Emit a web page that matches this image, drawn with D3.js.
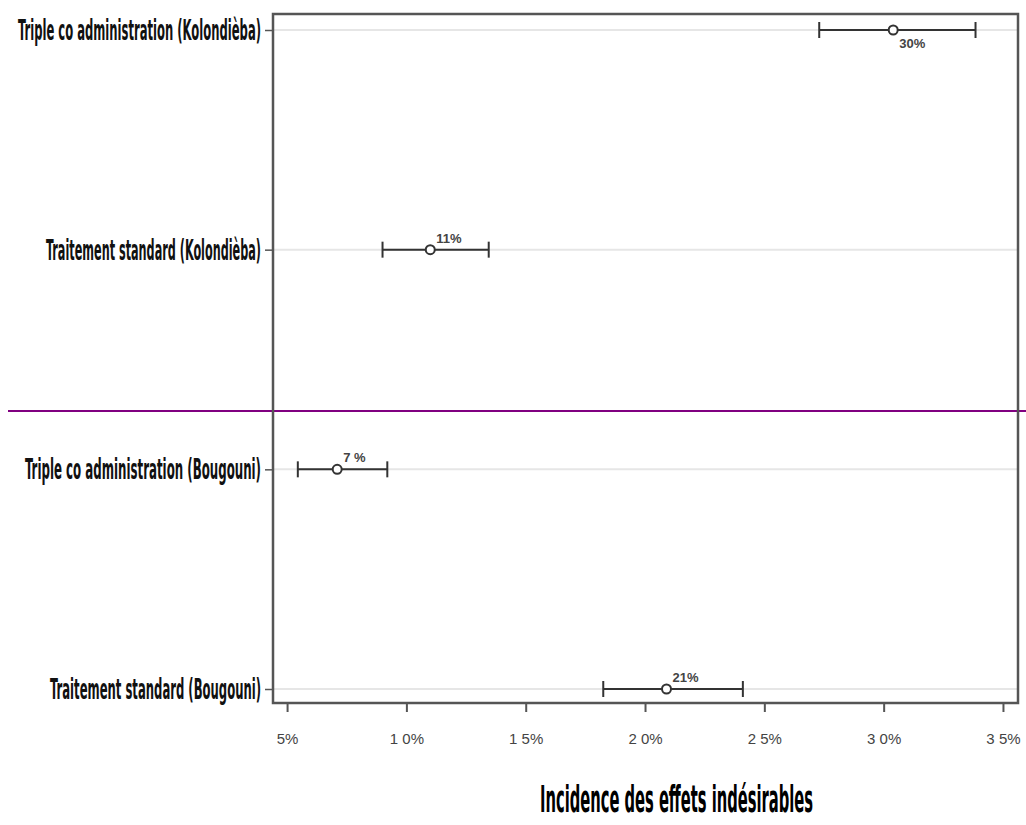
<!DOCTYPE html>
<html><head><meta charset="utf-8">
<script src="https://cdn.jsdelivr.net/npm/d3@7"></script>
<style>body{margin:0;background:#fff;} svg{display:block;}</style>
</head><body>
<svg id="c" width="1026" height="825"></svg>
<script>
const categories = ["Triple co administration (Kolondièba)","Traitement standard (Kolondièba)","Triple co administration (Bougouni)","Traitement standard (Bougouni)"];
const estimates = [30.4, 11.0, 7.1, 20.9];
const lower = [27.3, 9.0, 5.45, 18.25];
const upper = [33.85, 13.45, 9.2, 24.1];
const pointLabels = ["30%","11%","7 %","21%"];
const labelWidths = [243, 215, 236, 211];
const xTicks = [5,10,15,20,25,30,35];
const xTickLabels = ["5%","1 0%","1 5%","2 0%","2 5%","3 0%","3 5%"];
const xTitle = "Incidence des effets indésirables";

const svg = d3.select("#c");
const L=273, R=1018, T=14, B=703;
const x = d3.scaleLinear().domain([4.41, 35.63]).range([L, R]);
const y = d3.scalePoint().domain(categories).range([30, 689]);

// gridlines
svg.append("g").selectAll("line").data(categories).join("line")
  .attr("x1",L).attr("x2",R).attr("y1",d=>y(d)).attr("y2",d=>y(d))
  .attr("stroke","#e6e6e6").attr("stroke-width",2);

// purple separator
svg.append("line").attr("x1",8).attr("x2",1026).attr("y1",411).attr("y2",411)
  .attr("stroke","#800080").attr("stroke-width",2);

// frame
svg.append("rect").attr("x",L).attr("y",T).attr("width",R-L).attr("height",B-T)
  .attr("fill","none").attr("stroke","#555").attr("stroke-width",2.5);

// x axis
const xAxis = d3.axisBottom(x).tickValues(xTicks).tickSize(9).tickFormat((d,i)=>xTickLabels[i]);
const gx = svg.append("g").attr("transform",`translate(0,${B})`).call(xAxis);
gx.select(".domain").remove();
gx.selectAll(".tick line").attr("stroke","#555").attr("stroke-width",2);
gx.selectAll(".tick text").attr("y",30).attr("font-family","Liberation Sans, Arial, sans-serif")
  .attr("font-size",15).attr("fill","#444");

// y axis
const yAxis = d3.axisLeft(y).tickSize(8).tickFormat("");
const gy = svg.append("g").attr("transform",`translate(${L},0)`).call(yAxis);
gy.select(".domain").remove();
gy.selectAll(".tick line").attr("stroke","#555").attr("stroke-width",1.5);

svg.append("g").selectAll("text").data(categories).join("text")
  .attr("x",(d,i)=>261-labelWidths[i]).attr("y",d=>y(d)+10)
  .attr("font-family","Liberation Sans Narrow, DejaVu Sans Condensed, sans-serif")
  .attr("font-weight","bold").attr("font-size",28).attr("fill","#111")
  .attr("textLength",(d,i)=>labelWidths[i]).attr("lengthAdjust","spacingAndGlyphs")
  .text(d=>d);

// error bars
const g = svg.append("g");
categories.forEach((c,i)=>{
  const yy=y(c);
  g.append("line").attr("x1",x(lower[i])).attr("x2",x(upper[i])).attr("y1",yy).attr("y2",yy)
    .attr("stroke","#333").attr("stroke-width",2);
  [lower[i],upper[i]].forEach(v=>{
    g.append("line").attr("x1",x(v)).attr("x2",x(v)).attr("y1",yy-8).attr("y2",yy+8)
      .attr("stroke","#333").attr("stroke-width",2);
  });
  g.append("circle").attr("cx",x(estimates[i])).attr("cy",yy).attr("r",4.5)
    .attr("fill","#fff").attr("stroke","#333").attr("stroke-width",2);
  const below = i===0;
  g.append("text").attr("x",x(estimates[i])+6).attr("y",below?yy+18:yy-7)
    .attr("font-family","Liberation Sans, Arial, sans-serif").attr("font-weight","bold")
    .attr("font-size",13).attr("fill","#444").text(pointLabels[i]);
});

// x title
svg.append("text").attr("x",540).attr("y",812)
  .attr("font-family","Liberation Sans Narrow, DejaVu Sans Condensed, sans-serif")
  .attr("font-weight","bold").attr("font-size",38).attr("fill","#000")
  .attr("textLength",273).attr("lengthAdjust","spacingAndGlyphs")
  .text(xTitle);
</script>
</body></html>
